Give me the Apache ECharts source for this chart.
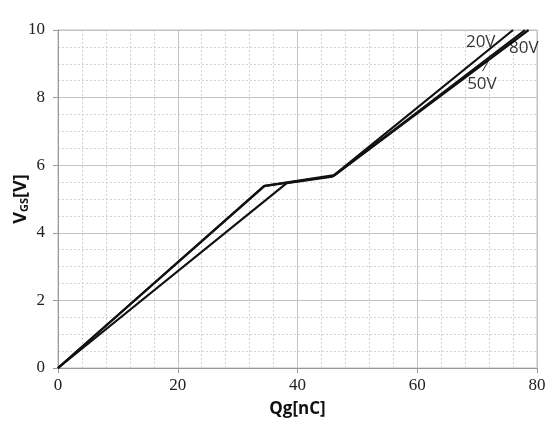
<!DOCTYPE html>
<html><head><meta charset="utf-8">
<script src="https://cdn.jsdelivr.net/npm/echarts@6/dist/echarts.min.js"></script>
<style>html,body{margin:0;padding:0;background:#fff}#c{width:558px;height:432px}</style>
</head><body><div id="c"></div>
<script>
const xTicks = [0, 20, 40, 60, 80];
const yTicks = [0, 2, 4, 6, 8, 10];
const series20V = [[0, 0], [38.2, 5.47], [45.8, 5.66], [76.0, 10.0]];
const series50V = [[0, 0], [34.4, 5.38], [46.0, 5.68], [78.0, 10.0]];
const series80V = [[0, 0], [34.5, 5.39], [46.2, 5.71], [78.6, 10.0]];
const labelNames = ['20V', '80V', '50V'];
const labelPos = [[70.6, 9.64], [77.8, 9.47], [70.8, 8.4]];
const leader50V = [[70.9, 8.78], [72.3, 9.22]];

const chart = echarts.init(document.getElementById('c'));
const lineStyle = {color: '#111', width: 2.2};
const tickFont = {fontFamily: 'Liberation Serif', fontSize: 17, color: '#222'};
chart.setOption({
  animation: false,
  grid: {left: 58, right: 21, top: 30, bottom: 64, containLabel: false, outerBoundsMode: 'none',
         show: true, borderColor: '#bdbdbd', borderWidth: 1},
  xAxis: {
    type: 'value', min: xTicks[0], max: xTicks[xTicks.length - 1], interval: 20,
    axisLine: {show: true, lineStyle: {color: '#999'}},
    axisTick: {show: true, length: 5, lineStyle: {color: '#999'}},
    minorTick: {show: false, splitNumber: 5},
    splitLine: {show: true, lineStyle: {color: '#c4c4c4', width: 1}},
    minorSplitLine: {show: true, lineStyle: {color: '#d2d2d2', width: 1, type: [2, 2]}},
    axisLabel: Object.assign({margin: 9}, tickFont),
    name: 'Qg[nC]', nameLocation: 'middle', nameGap: 33, nameMoveOverlap: false,
    nameTextStyle: {fontFamily: 'Open Sans', fontWeight: 'bold', fontSize: 17, color: '#111'}
  },
  yAxis: {
    type: 'value', min: yTicks[0], max: yTicks[yTicks.length - 1], interval: 2,
    axisLine: {show: true, lineStyle: {color: '#999'}},
    axisTick: {show: true, length: 5, lineStyle: {color: '#999'}},
    minorTick: {show: false, splitNumber: 4},
    splitLine: {show: true, lineStyle: {color: '#c4c4c4', width: 1}},
    minorSplitLine: {show: true, lineStyle: {color: '#d2d2d2', width: 1, type: [2, 2]}},
    axisLabel: Object.assign({margin: 13}, tickFont),
    name: '{v|V}{s|GS}{v|[V]}', nameLocation: 'middle', nameGap: 28, nameRotate: 90, nameMoveOverlap: false,
    nameTextStyle: {
      rich: {
        v: {fontFamily: 'Open Sans', fontWeight: 'bold', fontSize: 18, color: '#111'},
        s: {fontFamily: 'Open Sans', fontWeight: 'bold', fontSize: 11, color: '#111', verticalAlign: 'bottom', padding: [8, 0, 0, 0]}
      }
    }
  },
  series: [
    {type: 'line', name: '20V', data: series20V, symbol: 'none', lineStyle: lineStyle, z: 3},
    {type: 'line', name: '50V', data: series50V, symbol: 'none', lineStyle: lineStyle, z: 3},
    {type: 'line', name: '80V', data: series80V, symbol: 'none', lineStyle: lineStyle, z: 3},
    {type: 'line', data: leader50V, symbol: 'none', lineStyle: {color: '#222', width: 1}, z: 4},
    {type: 'scatter', symbolSize: 0, z: 5,
     data: labelPos.map((p, i) => ({value: p, name: labelNames[i]})),
     label: {show: true, position: 'inside', formatter: '{b}', fontFamily: 'Liberation Sans Narrow, Open Sans', fontSize: 17, color: '#000'}}
  ]
});
</script></body></html>
